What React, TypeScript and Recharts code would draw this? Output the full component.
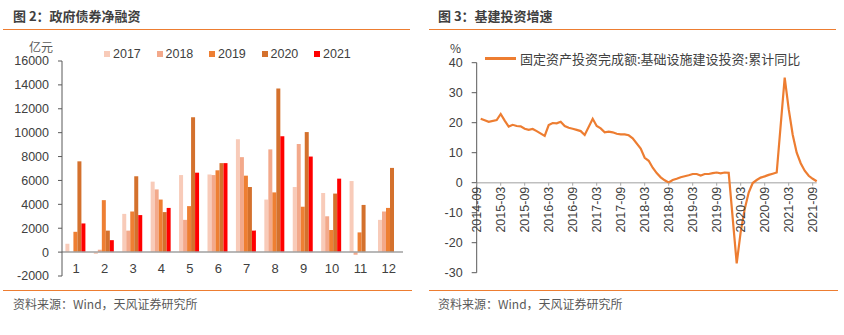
import React from 'react';
import { BarChart, Bar, LineChart, Line, XAxis, YAxis, ReferenceLine } from 'recharts';

// ---- 图 2 政府债券净融资 (亿元) ----
const months = ['1', '2', '3', '4', '5', '6', '7', '8', '9', '10', '11', '12'];
const bond2017 = [700, -150, 3200, 5900, 6450, 6500, 9450, 4400, 5450, 4950, 5950, 2700];
const bond2018 = [0, 200, 1800, 5250, 2700, 6450, 7950, 8600, 9050, 3000, -220, 3400];
const bond2019 = [1700, 4350, 3400, 4400, 3850, 6850, 6400, 5000, 3800, 1850, 1650, 3700];
const bond2020 = [7600, 1800, 6350, 3350, 11300, 7450, 5450, 13700, 10050, 4900, 3950, 7050];
const bond2021 = [2400, 1000, 3100, 3700, 6650, 7450, 1800, 9700, 8000, 6150, null, null];
const bondYears = ['2017', '2018', '2019', '2020', '2021'];
const bondColors = ['#F8CBB9', '#F3A98B', '#EE7F33', '#D4712D', '#FF0000'];
const bondTicks = [-2000, 0, 2000, 4000, 6000, 8000, 10000, 12000, 14000, 16000];

// ---- 图 3 基建投资增速 (%) ----
const infra2014 = [21.3, 20.8, 20.3]; // Oct-Dec
const infra2015 = [null, 20.9, 22.9, 20.7, 18.7, 19.3, 18.9, 18.8, 18.0, 17.6, 17.9, 17.2];
const infra2016 = [null, 15.6, 19.2, 19.9, 19.8, 20.3, 18.9, 18.3, 18.0, 17.6, 17.2, 15.9];
const infra2017 = [null, 21.3, 18.9, 18.1, 16.8, 17.0, 16.8, 16.3, 16.1, 16.1, 15.8, 14.8];
const infra2018 = [null, 11.4, 8.3, 7.3, 5.0, 3.2, 1.8, 0.8, 0.1, 0.9, 1.3, 1.8];
const infra2019 = [null, 2.5, 2.9, 2.9, 2.4, 2.9, 2.9, 3.2, 3.4, 3.1, 3.4, 3.3];
const infra2020 = [null, -26.9, -16.4, -8.8, -3.3, -0.1, 0.9, 1.7, 2.1, 2.6, 3.0, 3.4];
const infra2021 = [null, 35.0, 24.5, 16.0, 10.0, 6.5, 4.0, 2.3, 1.3, 0.5];
const infraTickLabels = [
  '2014-09', '2015-03', '2015-09', '2016-03', '2016-09', '2017-03', '2017-09', '2018-03',
  '2018-09', '2019-03', '2019-09', '2020-03', '2020-09', '2021-03', '2021-09',
];
const infraYTicks = [-30, -20, -10, 0, 10, 20, 30, 40];
const infraName = '固定资产投资完成额:基础设施建设投资:累计同比';

const bondData = months.map((m, i) => ({
  month: m,
  y2017: bond2017[i],
  y2018: bond2018[i],
  y2019: bond2019[i],
  y2020: bond2020[i],
  y2021: bond2021[i],
}));

// month index counted from 2014-09
const infraSeries = [
  { year: 2014, first: 10, values: infra2014 },
  { year: 2015, first: 1, values: infra2015 },
  { year: 2016, first: 1, values: infra2016 },
  { year: 2017, first: 1, values: infra2017 },
  { year: 2018, first: 1, values: infra2018 },
  { year: 2019, first: 1, values: infra2019 },
  { year: 2020, first: 1, values: infra2020 },
  { year: 2021, first: 1, values: infra2021 },
];
const infraData = infraSeries.flatMap((s) =>
  s.values.map((v, i) => ({ m: (s.year - 2014) * 12 + s.first + i - 9, v }))
);
const infraTicks = infraTickLabels.map((_, i) => i * 6);

const CJK = '"Noto Sans CJK SC", sans-serif';
const NUM = '"Liberation Sans", Arial, sans-serif';
const ORANGE = '#ED7D31';
const TEXT = '#404040';

// layout
const LINE_TOP = 62.7;
const LINE_PLOT_H = 210;
const Y_MIN = -30;
const Y_MAX = 40;
const ZERO_SHIFT = (LINE_PLOT_H * (0 - Y_MIN)) / (Y_MAX - Y_MIN);
const AXIS_H = 20;

const BarXTick = (props: any) => {
  const { x, y, payload } = props;
  return (
    <text x={x} y={y} dy={-3.5} textAnchor="middle" fill={TEXT} fontSize={13} fontFamily={NUM}>
      {payload.value}
    </text>
  );
};

const LineXTick = (props: any) => {
  const { x, y, payload } = props;
  const zy = y - ZERO_SHIFT;
  const label = infraTickLabels[infraTicks.indexOf(payload.value)];
  return (
    <g>
      <line x1={x} x2={x} y1={zy} y2={zy + 3} stroke="#a6a6a6" />
      <text
        x={x}
        y={zy + 4}
        dy="0.35em"
        textAnchor="end"
        transform={`rotate(-90, ${x}, ${zy + 4})`}
        fill={TEXT}
        fontSize={12.5}
        fontFamily={NUM}
      >
        {label}
      </text>
    </g>
  );
};

const abs = (left: number, top: number, extra: React.CSSProperties = {}): React.CSSProperties => ({
  position: 'absolute',
  left,
  top,
  ...extra,
});

export default function App() {
  return (
    <div style={abs(0, 0, { width: 844, height: 335, background: '#fff', overflow: 'hidden' })}>
      {/* titles */}
      <div style={abs(13, 7, { fontFamily: CJK, fontSize: 13, fontWeight: 700, color: TEXT, lineHeight: '18px' })}>
        图 2：政府债券净融资
      </div>
      <div style={abs(438, 7, { fontFamily: CJK, fontSize: 13, fontWeight: 700, color: TEXT, lineHeight: '18px' })}>
        图 3：基建投资增速
      </div>
      <div style={abs(3, 28.5, { width: 407, height: 1.5, background: ORANGE })} />
      <div style={abs(429, 28.5, { width: 407, height: 1.5, background: ORANGE })} />

      {/* left chart */}
      <div style={abs(0, 0)}>
        <BarChart
          width={420}
          height={300}
          data={bondData}
          margin={{ top: 61, right: 17, bottom: 24 - AXIS_H, left: 0 }}
          barCategoryGap="12%"
          barGap={0}
        >
          <YAxis
            width={62}
            domain={[-2000, 16000]}
            ticks={bondTicks}
            interval={0}
            axisLine={{ stroke: '#595959' }}
            tickLine={{ stroke: '#595959' }}
            tickSize={4}
            tickMargin={9}
            tick={{ fill: TEXT, fontSize: 12.5, fontFamily: NUM }}
          />
          <XAxis
            dataKey="month"
            height={AXIS_H}
            axisLine={false}
            tickLine={false}
            tickSize={0}
            tickMargin={0}
            interval={0}
            tick={(p: any) => <BarXTick {...p} />}
          />
          {bondYears.map((yr, i) => (
            <Bar key={yr} dataKey={`y${yr}`} fill={bondColors[i]} isAnimationActive={false} />
          ))}
          <ReferenceLine y={0} stroke="#a0a0a0" strokeWidth={1.5} />
        </BarChart>
      </div>
      <div style={abs(29, 40, { fontFamily: CJK, fontSize: 12, color: '#595959', lineHeight: '14px' })}>亿元</div>
      {bondYears.map((yr, i) => (
        <div key={yr} style={abs(104 + i * 52.5, 46, { display: 'flex', alignItems: 'center', height: 16 })}>
          <span style={{ width: 6, height: 6, background: bondColors[i], marginRight: 3 }} />
          <span style={{ fontFamily: NUM, fontSize: 12.5, color: TEXT }}>{yr}</span>
        </div>
      ))}

      {/* right chart */}
      <div style={abs(420, 0)}>
        <LineChart
          width={424}
          height={300}
          data={infraData}
          margin={{ top: LINE_TOP, right: 27.3, bottom: 300 - LINE_TOP - LINE_PLOT_H - AXIS_H, left: 0 }}
        >
          <YAxis
            width={56.7}
            domain={[Y_MIN, Y_MAX]}
            ticks={infraYTicks}
            interval={0}
            axisLine={{ stroke: '#595959' }}
            tickLine={{ stroke: '#595959' }}
            tickSize={5}
            tickMargin={9}
            tick={{ fill: TEXT, fontSize: 12.5, fontFamily: NUM }}
          />
          <XAxis
            type="number"
            dataKey="m"
            domain={[0, 85]}
            ticks={infraTicks}
            interval={0}
            height={AXIS_H}
            axisLine={false}
            tickLine={false}
            tickSize={0}
            tickMargin={0}
            tick={(p: any) => <LineXTick {...p} />}
          />
          <ReferenceLine y={0} stroke="#bfbfbf" strokeWidth={1.5} />
          <Line
            type="linear"
            dataKey="v"
            stroke={ORANGE}
            strokeWidth={2.2}
            dot={false}
            connectNulls
            isAnimationActive={false}
          />
        </LineChart>
      </div>
      <div style={abs(450, 40, { fontFamily: CJK, fontSize: 12, color: TEXT, lineHeight: '16px' })}>%</div>
      <div style={abs(485, 49, { display: 'flex', alignItems: 'center', height: 18 })}>
        <span style={{ width: 31, height: 3, background: ORANGE, marginRight: 4 }} />
        <span style={{ fontFamily: CJK, fontSize: 13, color: TEXT }}>{infraName}</span>
      </div>

      {/* footers */}
      <div style={abs(3, 289.5, { width: 409, height: 1.5, background: ORANGE })} />
      <div style={abs(429, 289.5, { width: 409, height: 1.5, background: ORANGE })} />
      <div style={abs(13, 296, { fontFamily: CJK, fontSize: 12, color: '#595959', lineHeight: '16px' })}>
        资料来源：Wind，天风证券研究所
      </div>
      <div style={abs(438, 296, { fontFamily: CJK, fontSize: 12, color: '#595959', lineHeight: '16px' })}>
        资料来源：Wind，天风证券研究所
      </div>
    </div>
  );
}
